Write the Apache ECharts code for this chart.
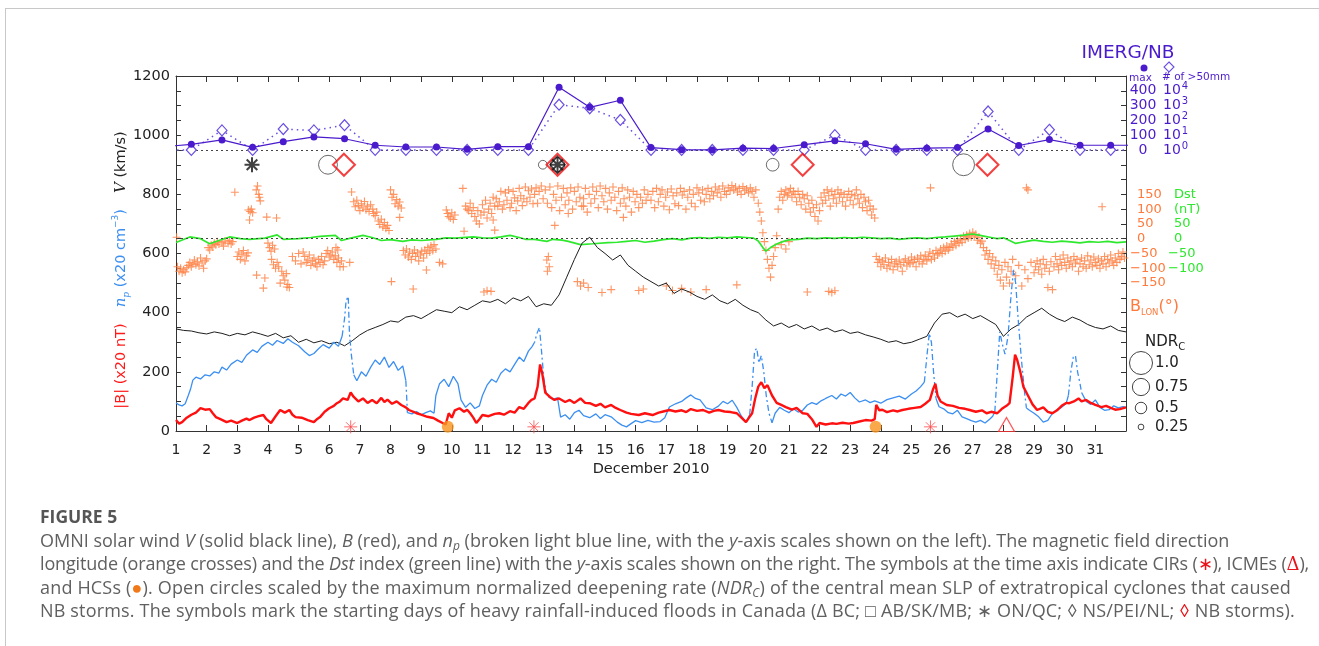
<!DOCTYPE html>
<html>
<head>
<meta charset="utf-8">
<title>OMNI solar wind and NB storms, December 2010</title>
<script src="https://cdn.jsdelivr.net/npm/echarts@6.0.0/dist/echarts.min.js"></script>
<style>
  html, body { margin: 0; padding: 0; background: #fff; }
  #wrap { position: relative; width: 1319px; height: 646px; overflow: hidden; }
  #chart { position: absolute; left: 0; top: 0; width: 1319px; height: 646px; }
  #frameTop { position: absolute; left: 5px; top: 8px; width: 1314px; height: 1px; background: #c8c8c8; }
  #frameLeft { position: absolute; left: 5px; top: 8px; width: 1px; height: 638px; background: #c8c8c8; }
  #caption { position: absolute; left: 40px; top: 505px; font-family: "Open Sans", "Noto Sans", sans-serif;
             font-size: 18px; line-height: 23.6px; color: #606060; white-space: nowrap; }
  #caption .fig { font-weight: 700; font-size: 17.5px; color: #555; }
  #caption sub { font-size: 12px; line-height: 0; vertical-align: -3px; }
  #caption .red { color: #e8141a; }
  #caption .tri { color: #e8141a; font-family: "DejaVu Serif", "Liberation Serif", serif; }
  #caption .org { color: #f07a1a; }
  #caption .l2 { letter-spacing: -0.16px; }
  #caption .l3 { letter-spacing: 0.17px; }
  #caption .l4 { letter-spacing: 0.17px; }
</style>
</head>
<body>
<div id="wrap">
  <div id="chart"></div>
  <div id="frameTop"></div>
  <div id="frameLeft"></div>
  <div id="caption">
    <span class="fig">FIGURE 5</span><br>
    <span class="l1">OMNI solar wind <i>V</i> (solid black line), <i>B</i> (red), and <i>n<sub>p</sub></i> (broken light blue line, with the <i>y</i>-axis scales shown on the left). The magnetic field direction</span><br>
    <span class="l2">longitude (orange crosses) and the <i>Dst</i> index (green line) with the <i>y</i>-axis scales shown on the right. The symbols at the time axis indicate CIRs (<span class="red">∗</span>), ICMEs (<span class="tri">Δ</span>),</span><br>
    <span class="l3">and HCSs (<span class="org">●</span>). Open circles scaled by the maximum normalized deepening rate (<i>NDR<sub>C</sub></i>) of the central mean SLP of extratropical cyclones that caused</span><br>
    <span class="l4">NB storms. The symbols mark the starting days of heavy rainfall-induced floods in Canada (Δ BC; □ AB/SK/MB; ∗ ON/QC; ◊ NS/PEI/NL; <span class="red">◊</span> NB storms).</span>
  </div>
</div>
<script>
// ---------------- data (time in days of December 2010) ----------------

// Day-of-month tick labels on the time axis
const dayTicks = [1,2,3,4,5,6,7,8,9,10,11,12,13,14,15,16,17,18,19,20,21,22,23,24,25,26,27,28,29,30,31];

// OMNI solar wind speed V (km/s), 6-hour samples starting 1 Dec 00 UT
const vStartDay = 1;
const vStepDays = 0.25;
const solarWindV = [
  345,340,338,332, 328,335,330,322, 330,325,335,328, 320,330,315,322,
  300,310,298,305, 295,300,288,305, 325,340,350,360, 372,368,385,390,
  380,395,410,405, 400,420,410,425, 440,435,445,430, 450,440,455,420,
  430,425,460,520, 580,635,655,620, 600,578,595,560, 540,520,505,490,
  500,465,480,470, 455,445,460,440, 430,445,425,410, 400,375,355,365,
  350,360,345,355, 340,348,335,342, 330,335,325,318, 310,300,305,295,
  300,310,320,365, 395,400,385,395, 380,390,375,360, 320,345,360,385,
  400,415,395,380, 370,385,375,360, 350,345,355,340, 335
];

// |B| scaled by 20 (left axis), [day, value]
const fieldB = [
  [1.0,37],[1.1,25],[1.2,30],[1.35,45],[1.5,55],[1.65,62],[1.8,77],[1.95,72],[2.1,74],[2.2,60],[2.3,47],[2.45,40],
  [2.65,30],[2.8,35],[3.0,27],[3.15,35],[3.3,42],[3.4,37],[3.55,45],[3.7,50],[3.85,54],[3.95,40],[4.1,27],[4.25,50],
  [4.4,71],[4.55,62],[4.7,71],[4.8,55],[4.9,47],[5.1,45],[5.3,37],[5.5,30],[5.6,40],[5.7,47],[5.85,65],[6.0,77],
  [6.15,85],[6.25,94],[6.35,100],[6.45,110],[6.6,105],[6.7,130],[6.8,115],[6.95,100],[7.1,110],[7.25,95],[7.4,105],
  [7.55,94],[7.7,112],[7.8,98],[7.9,106],[8.05,92],[8.2,100],[8.35,88],[8.5,80],[8.6,71],[8.75,65],[8.85,60],[9.0,55],
  [9.2,48],[9.4,44],[9.55,35],[9.7,27],[9.8,22],[9.9,60],[10.0,45],[10.1,70],[10.25,77],[10.4,65],[10.5,72],[10.6,60],
  [10.7,45],[10.8,27],[10.9,40],[11.0,54],[11.2,50],[11.4,58],[11.55,60],[11.7,55],[11.9,67],[12.05,62],[12.2,81],
  [12.35,75],[12.5,95],[12.6,105],[12.7,110],[12.8,150],[12.88,225],[12.95,195],[13.05,130],[13.2,115],[13.35,105],
  [13.5,110],[13.7,98],[13.85,105],[14.0,95],[14.2,110],[14.35,95],[14.5,94],[14.7,85],[14.85,92],[15.0,80],[15.2,88],
  [15.35,78],[15.5,71],[15.7,62],[15.85,58],[16.1,54],[16.3,60],[16.55,54],[16.75,62],[16.9,66],[17.1,71],[17.3,66],
  [17.5,70],[17.65,64],[17.8,74],[18.0,68],[18.2,71],[18.4,62],[18.55,68],[18.7,71],[18.9,66],[19.1,64],[19.3,60],
  [19.45,45],[19.6,30],[19.7,45],[19.8,60],[19.9,110],[20.0,150],[20.1,165],[20.2,145],[20.3,155],[20.45,120],
  [20.6,95],[20.75,88],[20.9,81],[21.1,72],[21.25,78],[21.45,60],[21.6,58],[21.75,40],[21.9,14],[22.0,27],[22.2,22],
  [22.4,26],[22.55,24],[22.75,28],[22.95,25],[23.1,27],[23.3,32],[23.5,37],[23.7,35],[23.8,40],[23.85,88],[23.95,70],
  [24.05,72],[24.2,64],[24.4,70],[24.55,66],[24.7,71],[24.9,75],[25.1,78],[25.3,81],[25.45,92],[25.6,105],[25.7,140],
  [25.78,160],[25.85,120],[25.95,100],[26.15,88],[26.35,85],[26.55,78],[26.75,75],[26.9,71],[27.1,65],[27.3,70],
  [27.45,60],[27.6,65],[27.8,60],[27.95,75],[28.1,85],[28.2,94],[28.3,180],[28.38,258],[28.45,240],[28.55,200],
  [28.65,150],[28.8,120],[28.95,90],[29.1,71],[29.3,80],[29.45,65],[29.6,60],[29.75,70],[29.9,85],[30.05,95],
  [30.15,94],[30.3,100],[30.45,110],[30.55,100],[30.7,105],[30.85,95],[31.0,88],[31.2,81],[31.35,85],[31.5,78],
  [31.65,72],[31.8,74],[32.0,80]
];

// Proton density n_p scaled by 20 (left axis); nulls break the line where data are gapped
const densityNp = [
  [1.0,95],[1.1,88],[1.2,85],[1.3,92],[1.4,120],[1.47,140],[1.55,172],[1.65,182],[1.8,176],[1.95,190],[2.1,186],
  [2.25,200],[2.4,196],[2.5,216],[2.65,206],[2.8,226],[3.0,240],[3.15,232],[3.3,256],[3.5,274],[3.65,266],[3.8,286],
  [4.0,300],[4.15,290],[4.3,306],[4.5,296],[4.65,312],[4.8,300],[5.0,288],[5.2,268],[5.35,255],[5.5,262],[5.65,278],
  [5.8,292],[6.0,280],[6.15,300],[6.3,286],[6.42,320],[6.5,null],
  [6.8,190],[6.9,170],[7.05,200],[7.2,185],[7.35,215],[7.5,240],[7.65,225],[7.8,250],[7.95,215],[8.1,235],[8.25,205],
  [8.4,220],[8.5,170],[8.52,null],
  [8.55,62],[8.7,58],[8.85,66],[9.0,55],[9.15,62],[9.3,68],[9.42,60],[9.48,120],[9.6,160],[9.75,175],[9.9,150],
  [10.05,185],[10.2,160],[10.3,105],[10.45,80],[10.6,95],[10.75,76],[10.9,85],[11.0,120],[11.15,155],[11.3,175],
  [11.45,165],[11.6,195],[11.75,210],[11.9,200],[12.05,225],[12.2,250],[12.35,235],[12.5,270],[12.62,285],[12.7,null],
  [13.15,115],[13.3,108],[13.45,112],[13.55,47],[13.7,55],[13.85,40],[14.0,62],[14.15,70],[14.3,52],[14.5,45],
  [14.7,58],[14.85,42],[15.0,55],[15.2,48],[15.4,30],[15.55,20],[15.7,14],[15.85,25],[16.0,35],[16.2,28],[16.4,36],
  [16.6,30],[16.8,32],[16.95,45],[17.1,81],[17.3,92],[17.5,100],[17.65,112],[17.8,122],[17.95,110],[18.1,105],
  [18.3,78],[18.5,72],[18.7,84],[18.85,100],[19.0,92],[19.15,104],[19.3,80],[19.45,50],[19.6,30],[19.72,55],[19.78,null],
  [20.45,28],[20.55,60],[20.7,80],[20.85,70],[21.0,62],[21.15,75],[21.3,64],[21.45,70],[21.6,88],[21.75,96],[21.9,90],
  [22.05,102],[22.2,110],[22.4,120],[22.55,108],[22.7,125],[22.85,118],[23.0,130],[23.15,112],[23.3,98],[23.5,105],
  [23.65,96],[23.8,102],[24.0,94],[24.2,106],[24.4,112],[24.6,118],[24.8,108],[25.0,125],[25.15,135],[25.3,150],
  [25.42,165],[25.45,null],
  [25.8,110],[25.9,82],[26.05,75],[26.2,62],[26.35,58],[26.5,70],[26.65,48],[26.8,42],[26.95,35],[27.1,30],[27.25,36],
  [27.4,27],[27.55,40],[27.65,50],[27.72,65],[27.75,null],
  [28.75,78],[28.85,70],[29.0,60],[29.15,48],[29.3,30],[29.45,36],[29.6,60],[29.75,72],[29.9,80],[30.05,94],[30.12,120],
  [30.2,null],
  [30.55,130],[30.7,100],[30.85,90],[31.0,105],[31.15,80],[31.3,70],[31.45,72],[31.6,85],[31.75,78],[31.9,82],[32.0,80]
];

// Gapped stretches of n_p, drawn dash-dot
const densityNpGaps = [
  [6.42,320],[6.5,380],[6.55,440],[6.62,455],[6.66,330],[6.72,260],[6.8,190],[6.81,null],
  [8.5,170],[8.53,110],[8.55,62],[8.56,null],
  [12.62,285],[12.7,300],[12.78,330],[12.86,350],[12.92,280],[13.0,180],[13.08,130],[13.15,115],[13.16,null],
  [19.72,55],[19.8,150],[19.88,270],[19.95,280],[20.02,230],[20.1,255],[20.18,200],[20.26,120],[20.35,60],[20.45,28],[20.46,null],
  [25.42,165],[25.5,250],[25.58,330],[25.65,300],[25.72,200],[25.8,110],[25.81,null],
  [27.72,65],[27.8,200],[27.88,335],[27.95,300],[28.05,260],[28.15,320],[28.25,460],[28.33,545],[28.4,500],
  [28.48,380],[28.58,250],[28.68,140],[28.75,78],[28.76,null],
  [30.12,120],[30.2,200],[30.28,250],[30.35,255],[30.42,200],[30.5,160],[30.55,130]
];

// Dst index (nT), right axis
const dstIndex = [
  [1.0,-13],[1.45,6],[1.8,0],[2.1,-17],[2.4,-6],[2.75,6],[3.1,0],[3.4,-2],[3.9,2],[4.3,13],[4.5,-2],[5.0,0],[5.4,4],
  [5.7,8],[6.2,11],[6.4,-6],[6.7,2],[7.1,11],[7.4,4],[7.7,-6],[8.0,-3],[8.4,-9],[8.7,-4],[9.0,-6],[9.5,-2],[9.8,3],
  [10.1,2],[10.7,6],[11.0,3],[11.3,2],[11.6,6],[11.9,11],[12.2,4],[12.4,-2],[12.7,-2],[13.1,-9],[13.3,-2],[13.6,-5],
  [13.8,-9],[14.2,-20],[14.6,-17],[15.1,-13],[15.4,-12],[15.7,-9],[16.0,-6],[16.3,-12],[16.6,-8],[16.9,-3],[17.2,0],
  [17.5,-4],[17.8,2],[18.1,4],[18.4,1],[18.7,5],[19.0,3],[19.3,6],[19.6,4],[19.85,2],[20.0,-8],[20.15,-30],[20.25,-42],
  [20.4,-30],[20.6,-18],[20.8,-10],[21.0,-4],[21.3,-2],[21.6,2],[21.9,0],[22.2,3],[22.5,1],[22.8,4],[23.1,2],[23.4,5],
  [23.7,3],[24.0,0],[24.3,2],[24.6,-2],[24.9,1],[25.2,3],[25.5,0],[25.8,4],[26.1,6],[26.4,9],[26.7,12],[27.0,16],
  [27.2,12],[27.4,8],[27.6,4],[27.8,0],[28.0,3],[28.2,-6],[28.4,-16],[28.6,-12],[28.8,-8],[29.0,-5],[29.3,-9],
  [29.6,-12],[29.9,-8],[30.2,-11],[30.5,-14],[30.8,-10],[31.1,-12],[31.4,-9],[31.7,-13],[32.0,-11]
];

// Magnetic field direction longitude B_LON (degrees), right axis
const fieldLongitude = [
  [1.02,5],[1.05,-95],[1.1,-110],[1.15,-100],[1.2,-115],[1.25,-105],[1.3,-112],[1.35,-98],[1.4,-90],[1.45,-80],
  [1.5,-95],[1.55,-85],[1.6,-72],[1.65,-88],[1.7,-78],[1.75,-92],[1.8,-65],[1.85,-82],[1.9,-100],[1.95,-75],[2.0,-68],
  [2.05,-30],[2.1,-38],[2.15,-22],[2.2,-28],[2.25,-15],[2.3,-20],[2.35,-10],[2.4,-18],[2.5,-12],[2.55,-25],[2.6,-8],
  [2.7,-15],[2.75,-5],[2.8,-18],[2.85,-10],[2.92,157],[3.0,-60],[3.05,-45],[3.1,-70],[3.15,-52],[3.2,-40],[3.25,-75],
  [3.3,-58],[3.35,-48],[3.36,97],[3.42,92],[3.46,100],[3.5,88],[3.4,63],[3.62,165],[3.66,178],[3.7,150],[3.72,140],
  [3.75,128],[3.96,73],[4.28,70],[3.63,-123],[3.9,-133],[3.85,-167],[4.0,-15],[4.05,-30],[4.1,-42],[4.15,-22],
  [4.22,-35],[4.12,-70],[4.18,-88],[4.25,-100],[4.3,-80],[4.35,-95],[4.4,-150],[4.45,-110],[4.5,-125],[4.55,-140],
  [4.6,-118],[4.65,-155],[4.7,-165],[4.62,-163],[4.8,-60],[4.9,-75],[5.0,-50],[5.08,-85],
  [5.15,-45],[5.2,-60],[5.25,-80],[5.3,-72],[5.35,-55],[5.4,-90],[5.45,-75],[5.5,-65],[5.55,-85],[5.6,-95],[5.65,-70],
  [5.7,-80],[5.75,-60],[5.8,-88],[5.85,-75],[5.9,-50],[5.95,-40],[6.0,-62],[6.05,-55],[6.1,-45],[6.15,-70],[6.2,-58],
  [6.25,-80],[6.3,-65],[6.35,-95],[6.4,-75],[6.22,-30],[6.28,-38],[6.46,-95],[6.67,-80],
  [6.73,158],[6.8,125],[6.85,108],[6.9,130],[6.95,112],[7.0,95],[7.05,118],[7.1,104],[7.15,126],[7.2,98],[7.25,110],
  [7.3,92],[7.35,115],[7.42,100],[7.45,85],[7.5,78],[7.55,90],[7.6,60],[7.65,48],[7.7,66],[7.75,40],[7.8,55],[7.85,35],
  [7.9,45],[7.95,28],[8.0,165],[8.05,140],[8.1,150],[8.15,118],[8.2,132],[8.25,110],[8.3,124],[8.35,104],[8.3,72],
  [8.42,-40],[8.48,-55],[8.52,-35],[8.58,-62],[8.62,-45],[8.68,-70],[8.72,-50],[8.78,-38],[8.82,-60],[8.88,-48],
  [8.92,-75],[8.98,-55],[9.02,-42],[9.08,-65],[9.12,-38],[9.18,-50],[9.22,-30],[9.28,-45],[9.32,-25],[9.38,-40],
  [9.42,-20],[9.48,-35],[8.03,-145],[8.74,-170],[9.17,-106],[9.6,-80],[9.7,-85],
  [9.82,97],[9.86,85],[9.9,75],[9.95,70],[10.0,88],[10.05,65],[10.1,80],[10.36,170],[10.4,25],[10.45,110],[10.5,100],
  [10.55,95],[10.6,120],[10.65,85],[10.7,105],[10.75,75],[10.8,60],[10.85,95],[10.9,50],[10.95,80],[11.0,115],
  [11.05,90],[11.1,130],[11.15,70],[11.2,100],[11.25,120],[11.3,85],[11.35,140],[11.4,110],[11.05,-180],[11.15,-176],
  [11.28,-178],[11.45,135],[11.5,110],[11.55,125],[11.6,160],[11.65,100],[11.7,115],[11.75,155],[11.8,130],[11.85,165],
  [11.9,105],[11.95,120],[12.0,160],[12.05,138],[12.1,95],[12.15,128],[12.2,170],[12.25,145],[12.3,112],[12.35,135],
  [12.4,175],[12.45,125],[12.5,162],[12.55,140],[12.6,168],[12.65,118],[11.35,63],[11.4,29],
  [12.7,150],[12.75,172],[12.8,120],[12.85,160],[12.92,178],[12.98,135],[13.1,-72],[13.12,-110],[13.36,45],
  [13.15,-60],[13.18,-95],
  [13.05,165],[13.12,120],[13.2,175],[13.26,105],[13.32,150],[13.4,130],[13.46,178],[13.52,95],[13.58,140],[13.64,170],
  [13.7,115],[13.76,155],[13.82,130],[13.88,172],[13.94,100],[14.0,160],[14.06,125],[14.12,175],[14.18,140],[14.24,110],
  [14.3,135],[14.36,170],[14.42,90],[14.48,150],[14.54,120],[14.6,175],[14.66,135],[14.72,160],[14.78,105],[14.84,178],
  [14.9,145],[14.96,125],[15.02,170],[15.08,100],[15.14,155],[15.2,130],[15.26,175],[15.32,140],[15.38,95],[15.44,160],
  [15.5,120],[15.56,172],[15.62,135],[15.68,110],[15.74,165],[15.8,140],[15.86,90],[15.92,160],[15.98,125],[16.04,150],
  [16.1,105],[16.16,140],[16.22,120],[16.28,165],[16.34,130],[16.4,150],[13.8,85],[15.6,72],[14.3,110],
  [14.1,-145],[14.2,-160],[14.3,-150],[14.45,-165],[14.9,-182],[15.2,-172],[16.1,-175],[16.25,-170],
  [16.5,130],[16.56,160],[16.62,105],[16.68,170],[16.74,125],[16.8,150],[16.86,165],[16.92,110],[16.98,140],[17.04,158],
  [17.1,98],[17.16,168],[17.22,145],[17.28,118],[17.34,155],[17.4,112],[17.46,170],[17.52,148],[17.58,160],[17.64,100],
  [17.7,140],[17.76,165],[17.82,120],[17.88,150],[17.94,108],[18.0,172],[18.06,155],[18.12,130],[18.18,165],[18.24,125],
  [18.3,150],[18.36,170],[18.42,135],[18.48,160],[18.54,145],[18.6,175],[18.66,155],[18.72,168],[18.78,140],[18.84,178],
  [18.9,160],[18.96,150],[19.02,172],[19.08,162],[19.14,180],[19.2,165],[19.26,175],[19.32,158],[19.38,170],[19.44,150],
  [19.5,176],[19.56,162],[19.62,168],[19.68,155],[19.74,172],[19.8,160],[19.86,140],[19.92,165],
  [17.0,-160],[17.2,-175],[17.5,-168],[17.8,-180],[18.3,-172],[19.3,-156],
  [20.0,120],[20.05,90],[20.1,60],[20.15,20],[20.2,-10],[20.25,-40],[20.3,-70],[20.35,-100],[20.4,-130],[20.45,-90],
  [20.5,-60],[20.55,-30],[20.6,10],[20.75,-20],[20.9,-35],[21.0,-10],
  [20.65,100],[20.7,140],[20.75,160],[20.8,130],[20.85,150],[20.9,165],[20.95,145],[21.0,155],[21.05,170],[21.1,140],
  [21.15,160],[21.2,150],[21.25,125],[21.3,160],[21.35,140],[21.4,115],[21.45,150],[21.5,135],[21.55,100],[21.6,145],
  [21.65,120],[21.7,90],[21.75,130],[21.8,105],[21.85,75],[21.9,115],[21.95,60],[22.0,95],[22.05,140],[22.1,120],
  [22.15,155],[22.2,130],[22.25,165],[22.3,145],[22.35,110],[22.4,160],[22.45,135],[22.5,150],[22.55,120],[22.6,165],
  [22.65,140],[22.7,155],[22.75,125],[22.8,150],[22.85,110],[22.9,140],[22.95,160],[23.0,130],[23.05,150],[23.1,115],
  [23.15,145],[23.2,165],[23.25,135],[23.3,120],[23.35,150],[23.4,105],[23.45,140],[23.5,125],[23.55,95],[23.6,130],
  [23.65,110],[23.7,80],[23.75,100],[23.8,70],[21.6,-180],[22.3,-178],[22.4,-182],[22.5,-176],
  [23.85,-60],[23.9,-80],[23.95,-70],[24.0,-95],[24.05,-75],[24.1,-88],[24.15,-65],[24.2,-100],[24.25,-80],[24.3,-92],
  [24.35,-70],[24.4,-105],[24.45,-85],[24.5,-78],[24.55,-95],[24.6,-72],[24.65,-88],[24.7,-110],[24.75,-80],[24.8,-68],
  [24.85,-92],[24.9,-75],[24.95,-85],[25.0,-62],[25.05,-80],[25.1,-70],[25.15,-95],[25.2,-65],[25.25,-78],[25.3,-58],
  [25.35,-85],[25.4,-70],[25.45,-55],[25.5,-75],[25.55,-60],[25.6,-45],[25.65,-70],[25.7,-50],[25.75,-65],[25.8,-40],
  [25.85,-55],[25.9,-48],[25.95,-35],[26.0,-50],[26.05,-30],[26.1,-42],[26.15,-25],[26.2,-38],[25.62,172],
  [26.25,-30],[26.3,-18],[26.35,-28],[26.4,-10],[26.45,-22],[26.5,-5],[26.55,-15],[26.6,0],[26.65,-12],[26.7,8],
  [26.75,-3],[26.8,12],[26.85,2],[26.9,18],[26.95,6],[27.0,22],[27.05,10],[27.1,15],[27.15,-5],[27.2,5],[27.25,-15],
  [27.3,-8],[27.35,-30],[27.4,-55],[27.45,-40],[27.5,-70],[27.55,-50],[27.6,-85],[27.65,-62],[27.7,-100],[27.75,-75],
  [27.8,-120],[27.85,-90],[27.9,-140],[27.95,-105],[28.0,-160],[28.05,-80],[28.1,-130],[28.15,-95],[28.2,-150],
  [28.25,-110],[28.3,-70],[28.4,-125],[28.5,-90],[28.6,-160],[28.7,-105],[28.8,-135],[28.9,-80],[29.0,-115],
  [28.75,172],[28.8,165],
  [29.05,-95],[29.1,-75],[29.15,-105],[29.2,-85],[29.25,-120],[29.3,-70],[29.35,-100],[29.4,-88],[29.45,-165],
  [29.5,-110],[29.55,-78],[29.6,-172],[29.65,-95],[29.7,-60],[29.75,-85],[29.8,-105],[29.85,-70],[29.9,-90],[29.95,-55],
  [30.0,-80],[30.05,-100],[30.1,-65],[30.15,-88],[30.2,-75],[30.25,-95],[30.3,-60],[30.35,-82],[30.4,-70],[30.45,-110],
  [30.5,-85],[30.55,-65],[30.6,-95],[30.65,-75],[30.7,-100],[30.75,-58],[30.8,-88],[30.85,-72],[30.9,-95],[30.95,-62],
  [31.0,-80],[31.05,-90],[31.1,-68],[31.15,-100],[31.2,-75],[31.25,-85],[31.3,-60],[31.35,-95],[31.4,-70],[31.45,-82],
  [31.5,-55],[31.55,-75],[31.6,-90],[31.65,-65],[31.7,-80],[31.75,-50],[31.8,-70],[31.85,-60],[31.9,-45],[31.95,-65],
  [31.22,108]
];

// IMERG daily values over New Brunswick (noon of each day)
const imergDays = [0.5,1.5,2.5,3.5,4.5,5.5,6.5,7.5,8.5,9.5,10.5,11.5,12.5,13.5,14.5,15.5,16.5,
                   17.5,18.5,19.5,20.5,21.5,22.5,23.5,24.5,25.5,26.5,27.5,28.5,29.5,30.5,31.5,32.5];
const imergMax = [20,38,68,18,56,88,76,32,20,20,4,22,22,424,288,336,16,2,0,12,10,36,62,42,4,12,16,142,30,70,32,32,32];
const imergCount50 = [1,1,21,1,26,21,47,1,1,1,1,1,1,1150,660,107,1,1,1,1,1,1,10,1,1,1,1,400,1,23,1,1,1];

// IMERG axis tick labels (max value and # of pixels > 50 mm)
const imergMaxTicks = [0,100,200,300,400];
const imergCountExp = [0,1,2,3,4];

// Event rows along the top (V axis units place them on the row)
const eventRowV = 900;
const cycloneNDR = [[5.96,0.82],[12.97,0.38],[13.45,0.62],[20.47,0.55],[26.7,0.95]];
const nbStormDays = [6.48,13.45,21.45,27.48];
const onqcFloodDays = [3.48,13.45];
const nsFloodDays = [13.45];
const ndrLegend = [1.0,0.75,0.5,0.25];

// Solar wind structures along the time axis
const timeRowV = 14;
const cirDays = [6.7,12.68,25.62];
const hcsDays = [9.87,23.83];
const icmeDays = [28.1];

// Axis ticks
const leftTicks = [0,200,400,600,800,1000,1200];
const lonTicks = [-150,-100,-50,0,50,100,150];
const dstTicks = [-100,-50,0,50];

// ---------------- drawing ----------------
const FONT = 'DejaVu Sans';
const C_V = '#1e1e1e', C_B = '#ff1010', C_NP = '#3b8ff2', C_LON = '#ff7a3c', C_DST = '#2ee82e';
const C_IM = '#4a1bcc', C_IM2 = '#6b4fe3';
const ndrSize = v => 23 * v;
const plusPath = 'path://M3.45,0H4.55V8H3.45ZM0,3.45H8V4.55H0Z';
const starPath = 'path://M10,0L10,20M0,10L20,10M2.93,2.93L17.07,17.07M17.07,2.93L2.93,17.07';

const chart = echarts.init(document.getElementById('chart'), null, { renderer: 'canvas' });

const grid = { left: 176, top: 76, width: 950, height: 355, containLabel: false };
const minus = v => (v < 0 ? '\u2212' + Math.abs(v) : String(v));

const option = {
  animation: false,
  backgroundColor: '#ffffff',
  grid: grid,
  xAxis: [
    {
      type: 'value', min: 1, max: 32, interval: 1, position: 'bottom',
      axisLine: { show: true, onZero: false, lineStyle: { color: '#333', width: 1 } },
      axisTick: { show: true, inside: true, length: 6, lineStyle: { color: '#333' } },
      axisLabel: {
        margin: 12, fontFamily: FONT, fontSize: 14, color: '#222',
        formatter: v => (dayTicks.indexOf(v) >= 0 ? String(v) : '')
      },
      splitLine: { show: false },
      name: 'December 2010', nameLocation: 'middle', nameGap: 31,
      nameTextStyle: { fontFamily: FONT, fontSize: 14.5, color: '#222' }
    },
    {
      type: 'value', min: 1, max: 32, interval: 1, position: 'top',
      axisLine: { show: true, onZero: false, lineStyle: { color: '#333', width: 1 } },
      axisTick: { show: true, inside: true, length: 6, lineStyle: { color: '#333' } },
      axisLabel: { show: false }, splitLine: { show: false }
    }
  ],
  yAxis: [
    { // 0: V, |B| x20, n_p x20
      type: 'value', min: 0, max: 1200, interval: 50, position: 'left',
      axisLine: { show: true, onZero: false, lineStyle: { color: '#333', width: 1 } },
      axisTick: { show: true, inside: true, length: 5, lineStyle: { color: '#333' } },
      axisLabel: {
        margin: 6, fontFamily: FONT, fontSize: 14.5, color: '#222',
        formatter: v => (leftTicks.indexOf(v) >= 0 ? String(v) : '')
      },
      splitLine: { show: false }
    },
    { // 1: IMERG max (mm), with the matching decade of the pixel count
      type: 'value', min: -1900, max: 500, interval: 100, position: 'right',
      axisLine: { show: false }, axisTick: { show: false }, splitLine: { show: false },
      axisLabel: {
        margin: 3, fontFamily: FONT, fontSize: 14, color: C_IM, align: 'left',
        formatter: v => {
          const i = imergMaxTicks.indexOf(v);
          if (i < 0) return '';
          return '{a|' + v + '}{b|10}{s|' + imergCountExp[i] + '}';
        },
        rich: {
          a: { width: 28, align: 'right', fontFamily: FONT, fontSize: 14, color: C_IM, padding: [0, 6, 0, 0] },
          b: { fontFamily: FONT, fontSize: 14, color: C_IM },
          s: { fontFamily: FONT, fontSize: 10, color: C_IM, verticalAlign: 'top', padding: [0, 0, 8, 1] }
        }
      }
    },
    { // 2: IMERG number of pixels > 50 mm (log)
      type: 'log', logBase: 10, min: 1e-19, max: 1e5, position: 'right', show: false
    },
    { // 3: B_LON (deg)
      type: 'value', min: -650, max: 550, interval: 50, position: 'right',
      axisLine: { show: true, onZero: false, lineStyle: { color: '#333', width: 1 } },
      axisTick: { show: true, inside: true, length: 5, lineStyle: { color: '#333' } },
      splitLine: { show: false },
      axisLabel: {
        margin: 4, fontFamily: FONT, fontSize: 13, color: C_LON, align: 'left',
        formatter: v => {
          if (lonTicks.indexOf(v) < 0) return '';
          return v < 0 ? '{n|' + minus(v) + '}' : '{p|' + v + '}';
        },
        rich: {
          n: { fontFamily: FONT, fontSize: 13, color: C_LON },
          p: { fontFamily: FONT, fontSize: 13, color: C_LON, padding: [0, 0, 0, 7] }
        }
      }
    },
    { // 4: Dst (nT)
      type: 'value', min: -650, max: 550, interval: 50, position: 'right',
      axisLine: { show: false }, axisTick: { show: false }, splitLine: { show: false },
      axisLabel: {
        margin: 42, fontFamily: FONT, fontSize: 13, color: C_DST, align: 'left',
        formatter: v => {
          if (v === 150) return '{p|Dst}';
          if (v === 100) return '{p|(nT)}';
          if (dstTicks.indexOf(v) < 0) return '';
          return v < 0 ? '{n|' + minus(v) + '}' : '{p|' + v + '}';
        },
        rich: {
          n: { fontFamily: FONT, fontSize: 13, color: C_DST },
          p: { fontFamily: FONT, fontSize: 13, color: C_DST, padding: [0, 0, 0, 6] }
        }
      }
    }
  ],
  series: [
    { // B_LON crosses
      name: 'BLON', type: 'scatter', xAxisIndex: 0, yAxisIndex: 3,
      data: fieldLongitude, symbol: plusPath, symbolSize: 8,
      itemStyle: { color: '#ff8246', opacity: 0.85 }, z: 2, silent: true
    },
    { // Dst
      name: 'Dst', type: 'line', xAxisIndex: 0, yAxisIndex: 4, data: dstIndex,
      showSymbol: false, symbol: 'none', lineStyle: { color: C_DST, width: 1.7 }, z: 3, silent: true
    },
    { // V with the two dotted reference levels
      name: 'V', type: 'line', xAxisIndex: 0, yAxisIndex: 0,
      data: solarWindV.map((v, i) => [vStartDay + i * vStepDays, v]),
      showSymbol: false, symbol: 'none', lineStyle: { color: C_V, width: 1 }, z: 4, silent: true,
      markLine: {
        silent: true, symbol: 'none', label: { show: false },
        lineStyle: { color: '#444', width: 1, type: [2, 3] },
        data: [{ yAxis: 950 }, { yAxis: 650 }]
      }
    },
    { // n_p
      name: 'np', type: 'line', xAxisIndex: 0, yAxisIndex: 0, data: densityNp, connectNulls: false,
      showSymbol: false, symbol: 'none', lineStyle: { color: C_NP, width: 1.3 }, z: 5, silent: true
    },
    { // n_p gapped parts
      name: 'npGaps', type: 'line', xAxisIndex: 0, yAxisIndex: 0, data: densityNpGaps, connectNulls: false,
      showSymbol: false, symbol: 'none', lineStyle: { color: C_NP, width: 1.3, type: [6, 3, 2, 3] }, z: 5, silent: true
    },
    { // |B|
      name: 'B', type: 'line', xAxisIndex: 0, yAxisIndex: 0, data: fieldB,
      showSymbol: false, symbol: 'none', lineStyle: { color: C_B, width: 2.4 }, z: 6, silent: true
    },
    { // IMERG max
      name: 'IMERG max', type: 'line', xAxisIndex: 0, yAxisIndex: 1,
      data: imergDays.map((d, i) => [d, imergMax[i]]),
      symbol: 'circle', symbolSize: 7, showSymbol: true,
      itemStyle: { color: C_IM }, lineStyle: { color: C_IM, width: 1.2 }, z: 7, silent: true
    },
    { // IMERG pixel count > 50 mm
      name: 'IMERG count', type: 'line', xAxisIndex: 0, yAxisIndex: 2,
      data: imergDays.map((d, i) => [d, imergCount50[i]]),
      symbol: 'diamond', symbolSize: [10, 11], showSymbol: true,
      itemStyle: { color: '#ffffff', borderColor: C_IM2, borderWidth: 1.2 },
      lineStyle: { color: C_IM2, width: 1.5, type: [1.5, 4] }, z: 6, silent: true
    },
    { // cyclone NDR circles
      name: 'NDRc', type: 'scatter', xAxisIndex: 0, yAxisIndex: 0,
      data: cycloneNDR.map(c => [c[0], eventRowV, c[1]]),
      symbol: 'circle', symbolSize: val => ndrSize(val[2]),
      itemStyle: { color: 'rgba(0,0,0,0)', borderColor: '#444', borderWidth: 1 }, z: 8, silent: true
    },
    { // NB storms
      name: 'NB', type: 'scatter', xAxisIndex: 0, yAxisIndex: 0,
      data: nbStormDays.map(d => [d, eventRowV]),
      symbol: 'diamond', symbolSize: [22, 22],
      itemStyle: { color: 'rgba(0,0,0,0)', borderColor: '#f01010', borderWidth: 2 }, z: 9, silent: true
    },
    { // NS/PEI/NL floods
      name: 'NS', type: 'scatter', xAxisIndex: 0, yAxisIndex: 0,
      data: nsFloodDays.map(d => [d, eventRowV]),
      symbol: 'diamond', symbolSize: [15, 17],
      itemStyle: { color: 'rgba(0,0,0,0)', borderColor: '#111', borderWidth: 1.5 }, z: 10, silent: true
    },
    { // ON/QC floods
      name: 'ONQC', type: 'scatter', xAxisIndex: 0, yAxisIndex: 0,
      data: onqcFloodDays.map(d => [d, eventRowV]),
      symbol: starPath, symbolSize: 15,
      itemStyle: { color: 'rgba(0,0,0,0)', borderColor: '#111', borderWidth: 2 }, z: 11, silent: true
    },
    { // CIRs
      name: 'CIR', type: 'scatter', xAxisIndex: 0, yAxisIndex: 0,
      data: cirDays.map(d => [d, timeRowV]),
      symbol: starPath, symbolSize: 13,
      itemStyle: { color: 'rgba(0,0,0,0)', borderColor: '#ff4a4a', borderWidth: 1 }, z: 11, silent: true
    },
    { // HCSs
      name: 'HCS', type: 'scatter', xAxisIndex: 0, yAxisIndex: 0,
      data: hcsDays.map(d => [d, timeRowV]),
      symbol: 'circle', symbolSize: 12,
      itemStyle: { color: '#f7941d' }, z: 11, silent: true
    },
    { // ICMEs
      name: 'ICME', type: 'scatter', xAxisIndex: 0, yAxisIndex: 0,
      data: icmeDays.map(d => [d, 22]),
      symbol: 'triangle', symbolSize: [16, 14],
      itemStyle: { color: 'rgba(0,0,0,0)', borderColor: '#ff3030', borderWidth: 1.2 }, z: 11, silent: true
    }
  ],
  graphic: []
};

// Text blocks and the NDR legend drawn around the plot
const g = [];
g.push({
  type: 'text', x: 121, y: 270, rotation: Math.PI / 2, silent: true,
  style: {
    text: '{r||B| (x20 nT)}{sp|}{bi|n}{bs|p}{b| (x20 cm}{bu|\u22123}{b|)}{sp|}{ki|V}{k| (km/s)}',
    align: 'center', verticalAlign: 'middle',
    rich: {
      r: { fontFamily: FONT, fontSize: 14.5, fill: '#ff1a1a', lineHeight: 20 },
      sp: { width: 16 },
      bi: { fontFamily: 'DejaVu Serif', fontStyle: 'italic', fontSize: 15, fill: C_NP, lineHeight: 20 },
      bs: { fontFamily: 'DejaVu Serif', fontStyle: 'italic', fontSize: 9, fill: C_NP, verticalAlign: 'bottom', lineHeight: 20 },
      b: { fontFamily: FONT, fontSize: 14.5, fill: C_NP, lineHeight: 20 },
      bu: { fontFamily: FONT, fontSize: 9, fill: C_NP, verticalAlign: 'top', lineHeight: 20 },
      ki: { fontFamily: 'DejaVu Serif', fontStyle: 'italic', fontSize: 15, fill: '#222', lineHeight: 20 },
      k: { fontFamily: FONT, fontSize: 14.5, fill: '#222', lineHeight: 20 }
    }
  }
});
g.push({ type: 'text', x: 1128, y: 53, silent: true,
  style: { text: 'IMERG/NB', fontFamily: FONT, fontSize: 18.5, fill: C_IM, align: 'center', verticalAlign: 'middle' } });
g.push({ type: 'circle', shape: { cx: 1144, cy: 68, r: 3.5 }, style: { fill: C_IM }, silent: true });
g.push({ type: 'polygon', shape: { points: [[1169, 62], [1174, 67], [1169, 72], [1164, 67]] },
  style: { fill: '#fff', stroke: C_IM2, lineWidth: 1.1 }, silent: true });
g.push({ type: 'text', x: 1129, y: 78, silent: true,
  style: { text: 'max', fontFamily: FONT, fontSize: 10.5, fill: C_IM, verticalAlign: 'middle' } });
g.push({ type: 'text', x: 1162, y: 77, silent: true,
  style: { text: '# of >50mm', fontFamily: FONT, fontSize: 10.5, fill: C_IM, verticalAlign: 'middle' } });
g.push({ type: 'text', x: 1130, y: 307, silent: true,
  style: {
    text: '{b|B}{s|LON}{b|(\u00b0)}', verticalAlign: 'middle',
    rich: {
      b: { fontFamily: FONT, fontSize: 16, fill: C_LON, lineHeight: 20 },
      s: { fontFamily: FONT, fontSize: 8.5, fill: C_LON, verticalAlign: 'bottom', lineHeight: 20 }
    }
  } });
g.push({ type: 'text', x: 1145, y: 342, silent: true,
  style: {
    text: '{b|NDR}{s|C}', verticalAlign: 'middle',
    rich: {
      b: { fontFamily: FONT, fontSize: 15, fill: '#222', lineHeight: 20 },
      s: { fontFamily: FONT, fontSize: 10, fill: '#222', verticalAlign: 'bottom', lineHeight: 20 }
    }
  } });
const legendY = [363, 387, 408, 427];
ndrLegend.forEach((v, i) => {
  g.push({ type: 'circle', shape: { cx: 1141, cy: legendY[i], r: ndrSize(v) / 2 },
    style: { fill: 'none', stroke: '#444', lineWidth: 1 }, silent: true });
  g.push({ type: 'text', x: 1155, y: legendY[i], silent: true,
    style: { text: String(v === 1 ? '1.0' : v), fontFamily: FONT, fontSize: 15, fill: '#222', verticalAlign: 'middle' } });
});
option.graphic = g;

chart.setOption(option);
</script>
</body>
</html>
